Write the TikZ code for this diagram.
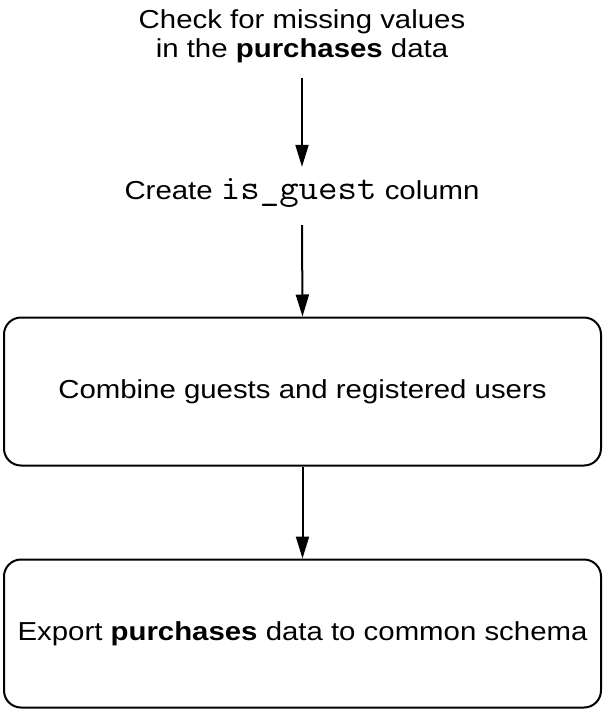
\documentclass[tikz,border=0pt]{standalone}
\usepackage{fontspec}
\setmainfont[FakeStretch=1.13]{Liberation Sans}
\newfontfamily\codefont[FakeStretch=1.08]{Latin Modern Mono}
\usetikzlibrary{arrows.meta}
\begin{document}
\begin{tikzpicture}[x=1pt,y=-1pt,
  txt/.style={font=\fontsize{26}{29}\selectfont, inner sep=0pt},
  stepbox/.style={draw, line width=2pt, rounded corners=17pt, minimum width=597pt, minimum height=148pt, font=\fontsize{26}{29}\selectfont, inner sep=0pt},
  flow/.style={line width=2pt, -{Triangle[length=22pt,width=13pt]}}]
\useasboundingbox (0,0) rectangle (604,713);
\node[txt, align=center, anchor=north] (check) at (302,9) {Check for missing values\\in the \textbf{purchases} data};
\node[txt, anchor=base, text height=19pt, text depth=13pt, inner ysep=13pt] (create) at (302,199) {Create {\fontsize{35}{35}\selectfont\codefont is\_guest} column};
\node[stepbox] (combine) at (302.5,391.5) {Combine guests and registered users};
\node[stepbox] (export) at (302.5,633.5) {Export \textbf{purchases} data to common schema};
\draw[flow, shorten <=15pt] (check.south) -- (create.north);
\draw[flow] (create.south) -- (combine.north);
\draw[flow] (combine.south) -- (export.north);
\end{tikzpicture}
\end{document}
